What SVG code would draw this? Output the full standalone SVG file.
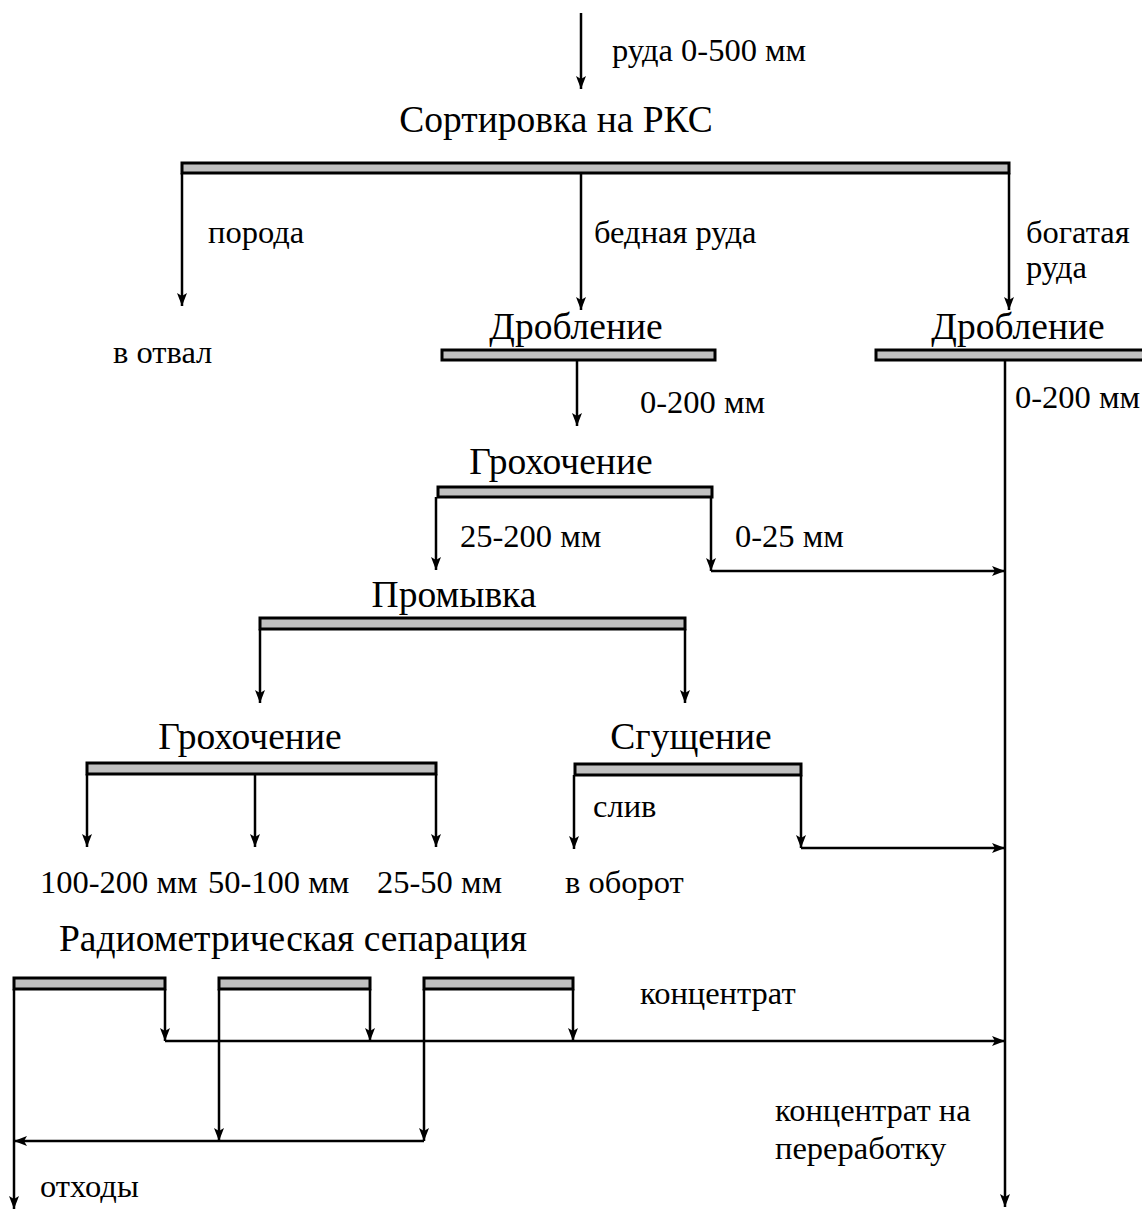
<svg xmlns="http://www.w3.org/2000/svg" width="1142" height="1211" viewBox="0 0 1142 1211">
  <style>
    .bar { fill: #c0c0c0; stroke: #000; stroke-width: 3; }
    .flow { fill: none; stroke: #000; stroke-width: 2.5; marker-end: url(#arrow); }
    .title { font-family: "Liberation Serif", "Times New Roman", serif; font-size: 37.5px; text-anchor: middle; fill: #000; }
    .label { font-family: "Liberation Serif", "Times New Roman", serif; font-size: 32.5px; fill: #000; }
  </style>
  <defs>
    <marker id="arrow" markerUnits="userSpaceOnUse" markerWidth="14" markerHeight="12" refX="13" refY="5" orient="auto">
      <path d="M0,0 L13,5 L0,10 L3,5 Z" fill="#000"/>
    </marker>
  </defs>
  <rect width="1142" height="1211" fill="#fff"/>

  <!-- connectors -->
  <g id="connectors">
    <path class="flow" d="M581,13 V89"/>
    <path class="flow" d="M182,173 V306"/>
    <path class="flow" d="M581,173 V310"/>
    <path class="flow" d="M1009,173 V310"/>
    <path class="flow" d="M577,360 V426"/>
    <path class="flow" d="M1005,360 V1207"/>
    <path class="flow" d="M436,497 V570"/>
    <path class="flow" d="M711,497 V571"/>
    <path class="flow" d="M711,571 H1005"/>
    <path class="flow" d="M260,629 V703"/>
    <path class="flow" d="M685,629 V703"/>
    <path class="flow" d="M87,774 V847"/>
    <path class="flow" d="M255,774 V847"/>
    <path class="flow" d="M436,774 V847"/>
    <path class="flow" d="M574,775 V849"/>
    <path class="flow" d="M801,775 V848"/>
    <path class="flow" d="M801,848 H1005"/>
    <path class="flow" d="M14,989 V1209"/>
    <path class="flow" d="M165,989 V1041"/>
    <path class="flow" d="M370,989 V1041"/>
    <path class="flow" d="M573,989 V1041"/>
    <path class="flow" d="M165,1041 H1005"/>
    <path class="flow" d="M219,989 V1141"/>
    <path class="flow" d="M424,989 V1141"/>
    <path class="flow" d="M424,1141 H14"/>
  </g>

  <!-- feed -->
  <g id="feed">
    <text class="label" x="612" y="61">руда 0-500 мм</text>
  </g>

  <g id="sorting">
    <text class="title" x="556" y="132">Сортировка на РКС</text>
    <rect class="bar" x="182" y="163" width="827" height="10"/>
    <text class="label" x="208" y="243">порода</text>
    <text class="label" x="594" y="243">бедная руда</text>
    <text class="label" x="1026" y="243">богатая</text>
    <text class="label" x="1026" y="278">руда</text>
  </g>

  <g id="dump">
    <text class="label" x="113" y="363">в отвал</text>
  </g>

  <g id="crushing-poor">
    <text class="title" x="576" y="339">Дробление</text>
    <rect class="bar" x="442" y="350" width="273" height="10"/>
    <text class="label" x="640" y="413">0-200 мм</text>
  </g>

  <g id="crushing-rich">
    <text class="title" x="1018" y="339">Дробление</text>
    <rect class="bar" x="876" y="350" width="270" height="10"/>
    <text class="label" x="1015" y="408">0-200 мм</text>
  </g>

  <g id="screening-1">
    <text class="title" x="561" y="474">Грохочение</text>
    <rect class="bar" x="438" y="487" width="274" height="10"/>
    <text class="label" x="460" y="547">25-200 мм</text>
    <text class="label" x="735" y="547">0-25 мм</text>
  </g>

  <g id="washing">
    <text class="title" x="454" y="607">Промывка</text>
    <rect class="bar" x="260" y="618" width="425" height="11"/>
  </g>

  <g id="screening-2">
    <text class="title" x="250" y="749">Грохочение</text>
    <rect class="bar" x="87" y="763" width="349" height="11"/>
    <text class="label" x="40" y="893">100-200 мм</text>
    <text class="label" x="208" y="893">50-100 мм</text>
    <text class="label" x="377" y="893">25-50 мм</text>
  </g>

  <g id="thickening">
    <text class="title" x="691" y="749">Сгущение</text>
    <rect class="bar" x="575" y="764" width="226" height="11"/>
    <text class="label" x="593" y="817">слив</text>
    <text class="label" x="565" y="893">в оборот</text>
  </g>

  <g id="radiometric-separation">
    <text class="title" x="293" y="951">Радиометрическая сепарация</text>
    <rect class="bar" x="14" y="978" width="151" height="11"/>
    <rect class="bar" x="219" y="978" width="151" height="11"/>
    <rect class="bar" x="424" y="978" width="149" height="11"/>
    <text class="label" x="640" y="1004">концентрат</text>
    <text class="label" x="40" y="1197">отходы</text>
  </g>

  <g id="concentrate-out">
    <text class="label" x="775" y="1121">концентрат на</text>
    <text class="label" x="775" y="1159">переработку</text>
  </g>
</svg>
